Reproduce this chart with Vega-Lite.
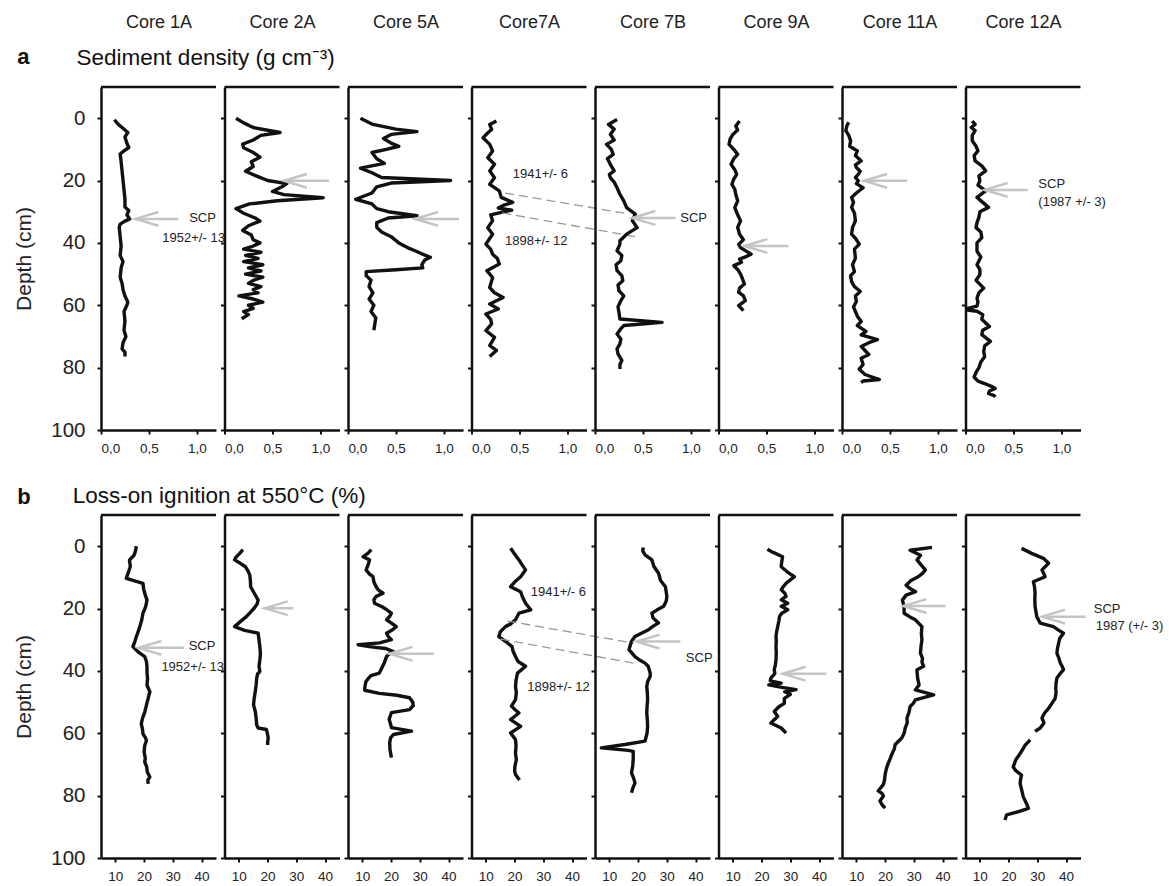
{
"$schema":"https://vega.github.io/schema/vega-lite/v6.json",
"background":"white",
"padding":{"left":13,"top":13,"right":5,"bottom":5},
"autosize":{"type":"pad"},
"config":{"font":"Liberation Sans","view":{"stroke":null},
"axis":{"grid":false,"domainColor":"#111","domainWidth":2.5,"tickColor":"#111","tickWidth":2,"tickSize":4,"labelColor":"#222","titleColor":"#222","labelFont":"Liberation Sans","titleFont":"Liberation Sans"},
"axisX":{"labelFontSize":13.5,"labelPadding":7},
"axisY":{"labelFontSize":20.5,"labelPadding":12,"titleFontSize":21,"titleFontWeight":"normal","titlePadding":16},
"text":{"font":"Liberation Sans"}},
"datasets":{
"P":[
{"r":"a","c":"1A","d":0.5,"v":0.14},{"r":"a","c":"1A","d":2,"v":0.18},{"r":"a","c":"1A","d":3,"v":0.22},{"r":"a","c":"1A","d":4.6,"v":0.28},{"r":"a","c":"1A","d":6,"v":0.25},{"r":"a","c":"1A","d":8,"v":0.27},{"r":"a","c":"1A","d":9.4,"v":0.29},{"r":"a","c":"1A","d":10.5,"v":0.24},{"r":"a","c":"1A","d":11.5,"v":0.2},{"r":"a","c":"1A","d":14,"v":0.21},{"r":"a","c":"1A","d":17,"v":0.22},{"r":"a","c":"1A","d":20,"v":0.23},{"r":"a","c":"1A","d":23,"v":0.24},{"r":"a","c":"1A","d":26,"v":0.25},{"r":"a","c":"1A","d":28.5,"v":0.25},{"r":"a","c":"1A","d":29.6,"v":0.29},{"r":"a","c":"1A","d":31,"v":0.27},{"r":"a","c":"1A","d":32.3,"v":0.3},{"r":"a","c":"1A","d":33,"v":0.25},{"r":"a","c":"1A","d":34,"v":0.2},{"r":"a","c":"1A","d":35,"v":0.19},{"r":"a","c":"1A","d":38,"v":0.2},{"r":"a","c":"1A","d":41,"v":0.21},{"r":"a","c":"1A","d":44,"v":0.2},{"r":"a","c":"1A","d":46,"v":0.23},{"r":"a","c":"1A","d":48,"v":0.21},{"r":"a","c":"1A","d":51,"v":0.2},{"r":"a","c":"1A","d":53,"v":0.22},{"r":"a","c":"1A","d":55,"v":0.23},{"r":"a","c":"1A","d":57,"v":0.25},{"r":"a","c":"1A","d":59,"v":0.28},{"r":"a","c":"1A","d":60,"v":0.27},{"r":"a","c":"1A","d":62,"v":0.24},{"r":"a","c":"1A","d":65,"v":0.25},{"r":"a","c":"1A","d":68,"v":0.24},{"r":"a","c":"1A","d":70,"v":0.26},{"r":"a","c":"1A","d":72,"v":0.23},{"r":"a","c":"1A","d":74,"v":0.22},{"r":"a","c":"1A","d":75,"v":0.25},{"r":"a","c":"1A","d":76.4,"v":0.25},
{"r":"a","c":"2A","d":0,"v":0.12},{"r":"a","c":"2A","d":1.5,"v":0.2},{"r":"a","c":"2A","d":3,"v":0.3},{"r":"a","c":"2A","d":4.6,"v":0.58},{"r":"a","c":"2A","d":5.5,"v":0.38},{"r":"a","c":"2A","d":7,"v":0.3},{"r":"a","c":"2A","d":8.3,"v":0.19},{"r":"a","c":"2A","d":9.5,"v":0.2},{"r":"a","c":"2A","d":11,"v":0.3},{"r":"a","c":"2A","d":12.5,"v":0.37},{"r":"a","c":"2A","d":14,"v":0.28},{"r":"a","c":"2A","d":15.5,"v":0.3},{"r":"a","c":"2A","d":17,"v":0.22},{"r":"a","c":"2A","d":18.5,"v":0.33},{"r":"a","c":"2A","d":20,"v":0.45},{"r":"a","c":"2A","d":21,"v":0.65},{"r":"a","c":"2A","d":22,"v":0.6},{"r":"a","c":"2A","d":23.5,"v":0.5},{"r":"a","c":"2A","d":24.5,"v":0.62},{"r":"a","c":"2A","d":25.5,"v":1.03},{"r":"a","c":"2A","d":26.5,"v":0.55},{"r":"a","c":"2A","d":27.5,"v":0.26},{"r":"a","c":"2A","d":29,"v":0.12},{"r":"a","c":"2A","d":30.5,"v":0.2},{"r":"a","c":"2A","d":32,"v":0.32},{"r":"a","c":"2A","d":33,"v":0.37},{"r":"a","c":"2A","d":34.5,"v":0.25},{"r":"a","c":"2A","d":36,"v":0.19},{"r":"a","c":"2A","d":37.5,"v":0.28},{"r":"a","c":"2A","d":39,"v":0.3},{"r":"a","c":"2A","d":40,"v":0.37},{"r":"a","c":"2A","d":41,"v":0.3},{"r":"a","c":"2A","d":42,"v":0.2},{"r":"a","c":"2A","d":43,"v":0.38},{"r":"a","c":"2A","d":44,"v":0.22},{"r":"a","c":"2A","d":45,"v":0.35},{"r":"a","c":"2A","d":46,"v":0.2},{"r":"a","c":"2A","d":47,"v":0.4},{"r":"a","c":"2A","d":48,"v":0.25},{"r":"a","c":"2A","d":49,"v":0.38},{"r":"a","c":"2A","d":50,"v":0.22},{"r":"a","c":"2A","d":51,"v":0.4},{"r":"a","c":"2A","d":52,"v":0.3},{"r":"a","c":"2A","d":53,"v":0.25},{"r":"a","c":"2A","d":54,"v":0.38},{"r":"a","c":"2A","d":55,"v":0.3},{"r":"a","c":"2A","d":56,"v":0.35},{"r":"a","c":"2A","d":57,"v":0.15},{"r":"a","c":"2A","d":58,"v":0.3},{"r":"a","c":"2A","d":59,"v":0.4},{"r":"a","c":"2A","d":60,"v":0.25},{"r":"a","c":"2A","d":61,"v":0.3},{"r":"a","c":"2A","d":62,"v":0.2},{"r":"a","c":"2A","d":63,"v":0.25},{"r":"a","c":"2A","d":64.3,"v":0.18},
{"r":"a","c":"5A","d":0,"v":0.13},{"r":"a","c":"5A","d":2,"v":0.26},{"r":"a","c":"5A","d":3.5,"v":0.5},{"r":"a","c":"5A","d":4.3,"v":0.72},{"r":"a","c":"5A","d":5.2,"v":0.45},{"r":"a","c":"5A","d":6.5,"v":0.37},{"r":"a","c":"5A","d":8,"v":0.45},{"r":"a","c":"5A","d":9,"v":0.53},{"r":"a","c":"5A","d":10,"v":0.4},{"r":"a","c":"5A","d":11,"v":0.25},{"r":"a","c":"5A","d":13,"v":0.3},{"r":"a","c":"5A","d":14.5,"v":0.38},{"r":"a","c":"5A","d":16,"v":0.13},{"r":"a","c":"5A","d":17.5,"v":0.25},{"r":"a","c":"5A","d":19,"v":0.35},{"r":"a","c":"5A","d":20,"v":1.07},{"r":"a","c":"5A","d":20.8,"v":0.45},{"r":"a","c":"5A","d":22,"v":0.3},{"r":"a","c":"5A","d":24,"v":0.25},{"r":"a","c":"5A","d":26,"v":0.08},{"r":"a","c":"5A","d":27.5,"v":0.25},{"r":"a","c":"5A","d":29,"v":0.3},{"r":"a","c":"5A","d":30,"v":0.42},{"r":"a","c":"5A","d":31.3,"v":0.72},{"r":"a","c":"5A","d":32,"v":0.42},{"r":"a","c":"5A","d":33.5,"v":0.3},{"r":"a","c":"5A","d":35,"v":0.3},{"r":"a","c":"5A","d":36.5,"v":0.35},{"r":"a","c":"5A","d":38,"v":0.45},{"r":"a","c":"5A","d":40,"v":0.53},{"r":"a","c":"5A","d":41.5,"v":0.62},{"r":"a","c":"5A","d":42.5,"v":0.7},{"r":"a","c":"5A","d":43.5,"v":0.77},{"r":"a","c":"5A","d":44.6,"v":0.86},{"r":"a","c":"5A","d":45.5,"v":0.8},{"r":"a","c":"5A","d":47,"v":0.77},{"r":"a","c":"5A","d":48,"v":0.78},{"r":"a","c":"5A","d":48.6,"v":0.5},{"r":"a","c":"5A","d":49.2,"v":0.19},{"r":"a","c":"5A","d":50.5,"v":0.19},{"r":"a","c":"5A","d":52,"v":0.24},{"r":"a","c":"5A","d":54,"v":0.22},{"r":"a","c":"5A","d":56,"v":0.26},{"r":"a","c":"5A","d":58,"v":0.22},{"r":"a","c":"5A","d":60,"v":0.27},{"r":"a","c":"5A","d":62,"v":0.24},{"r":"a","c":"5A","d":64,"v":0.29},{"r":"a","c":"5A","d":66,"v":0.28},{"r":"a","c":"5A","d":68,"v":0.27},
{"r":"a","c":"7A","d":0.9,"v":0.26},{"r":"a","c":"7A","d":2,"v":0.19},{"r":"a","c":"7A","d":3.6,"v":0.21},{"r":"a","c":"7A","d":5,"v":0.16},{"r":"a","c":"7A","d":6.3,"v":0.12},{"r":"a","c":"7A","d":8.4,"v":0.19},{"r":"a","c":"7A","d":10.5,"v":0.22},{"r":"a","c":"7A","d":12.7,"v":0.17},{"r":"a","c":"7A","d":14.8,"v":0.24},{"r":"a","c":"7A","d":16.9,"v":0.19},{"r":"a","c":"7A","d":19.1,"v":0.24},{"r":"a","c":"7A","d":21.2,"v":0.19},{"r":"a","c":"7A","d":23.3,"v":0.29},{"r":"a","c":"7A","d":25.4,"v":0.31},{"r":"a","c":"7A","d":27,"v":0.43},{"r":"a","c":"7A","d":28,"v":0.33},{"r":"a","c":"7A","d":28.8,"v":0.28},{"r":"a","c":"7A","d":29.5,"v":0.42},{"r":"a","c":"7A","d":30.3,"v":0.3},{"r":"a","c":"7A","d":31,"v":0.2},{"r":"a","c":"7A","d":32.9,"v":0.22},{"r":"a","c":"7A","d":35.1,"v":0.17},{"r":"a","c":"7A","d":37.2,"v":0.22},{"r":"a","c":"7A","d":40.4,"v":0.15},{"r":"a","c":"7A","d":42,"v":0.2},{"r":"a","c":"7A","d":43.6,"v":0.22},{"r":"a","c":"7A","d":45,"v":0.27},{"r":"a","c":"7A","d":46.8,"v":0.29},{"r":"a","c":"7A","d":48.9,"v":0.16},{"r":"a","c":"7A","d":51.1,"v":0.22},{"r":"a","c":"7A","d":54.3,"v":0.19},{"r":"a","c":"7A","d":56,"v":0.24},{"r":"a","c":"7A","d":57.5,"v":0.33},{"r":"a","c":"7A","d":59.6,"v":0.19},{"r":"a","c":"7A","d":61.2,"v":0.28},{"r":"a","c":"7A","d":62.8,"v":0.15},{"r":"a","c":"7A","d":64.5,"v":0.2},{"r":"a","c":"7A","d":66,"v":0.21},{"r":"a","c":"7A","d":68.1,"v":0.15},{"r":"a","c":"7A","d":70.3,"v":0.24},{"r":"a","c":"7A","d":72.9,"v":0.19},{"r":"a","c":"7A","d":74.5,"v":0.26},{"r":"a","c":"7A","d":76.4,"v":0.19},
{"r":"a","c":"7B","d":0.4,"v":0.23},{"r":"a","c":"7B","d":2,"v":0.14},{"r":"a","c":"7B","d":3.5,"v":0.2},{"r":"a","c":"7B","d":5.2,"v":0.16},{"r":"a","c":"7B","d":7,"v":0.2},{"r":"a","c":"7B","d":8.4,"v":0.12},{"r":"a","c":"7B","d":10,"v":0.17},{"r":"a","c":"7B","d":11.6,"v":0.19},{"r":"a","c":"7B","d":13,"v":0.13},{"r":"a","c":"7B","d":14.8,"v":0.16},{"r":"a","c":"7B","d":16.9,"v":0.2},{"r":"a","c":"7B","d":18,"v":0.15},{"r":"a","c":"7B","d":19.1,"v":0.16},{"r":"a","c":"7B","d":20.5,"v":0.2},{"r":"a","c":"7B","d":22.3,"v":0.23},{"r":"a","c":"7B","d":24.4,"v":0.26},{"r":"a","c":"7B","d":26.5,"v":0.3},{"r":"a","c":"7B","d":28.7,"v":0.33},{"r":"a","c":"7B","d":30.8,"v":0.42},{"r":"a","c":"7B","d":32.9,"v":0.39},{"r":"a","c":"7B","d":35.1,"v":0.44},{"r":"a","c":"7B","d":37.2,"v":0.33},{"r":"a","c":"7B","d":39.3,"v":0.26},{"r":"a","c":"7B","d":40.4,"v":0.26},{"r":"a","c":"7B","d":42.5,"v":0.23},{"r":"a","c":"7B","d":44,"v":0.28},{"r":"a","c":"7B","d":45.7,"v":0.27},{"r":"a","c":"7B","d":47,"v":0.22},{"r":"a","c":"7B","d":48.9,"v":0.23},{"r":"a","c":"7B","d":50.5,"v":0.28},{"r":"a","c":"7B","d":52.1,"v":0.29},{"r":"a","c":"7B","d":53.5,"v":0.24},{"r":"a","c":"7B","d":55.3,"v":0.25},{"r":"a","c":"7B","d":57,"v":0.3},{"r":"a","c":"7B","d":58.5,"v":0.27},{"r":"a","c":"7B","d":60.5,"v":0.24},{"r":"a","c":"7B","d":62.3,"v":0.25},{"r":"a","c":"7B","d":64.4,"v":0.26},{"r":"a","c":"7B","d":65.5,"v":0.7},{"r":"a","c":"7B","d":66.5,"v":0.3},{"r":"a","c":"7B","d":67.5,"v":0.27},{"r":"a","c":"7B","d":69.2,"v":0.23},{"r":"a","c":"7B","d":70.8,"v":0.27},{"r":"a","c":"7B","d":72.4,"v":0.26},{"r":"a","c":"7B","d":74,"v":0.23},{"r":"a","c":"7B","d":75.6,"v":0.24},{"r":"a","c":"7B","d":77.7,"v":0.28},{"r":"a","c":"7B","d":79,"v":0.26},{"r":"a","c":"7B","d":80.4,"v":0.26},
{"r":"a","c":"9A","d":0.9,"v":0.22},{"r":"a","c":"9A","d":2.5,"v":0.18},{"r":"a","c":"9A","d":3.8,"v":0.2},{"r":"a","c":"9A","d":5.2,"v":0.15},{"r":"a","c":"9A","d":6.8,"v":0.12},{"r":"a","c":"9A","d":8.4,"v":0.11},{"r":"a","c":"9A","d":10,"v":0.16},{"r":"a","c":"9A","d":11.6,"v":0.2},{"r":"a","c":"9A","d":13,"v":0.16},{"r":"a","c":"9A","d":14.8,"v":0.13},{"r":"a","c":"9A","d":16.5,"v":0.17},{"r":"a","c":"9A","d":18,"v":0.19},{"r":"a","c":"9A","d":19.5,"v":0.16},{"r":"a","c":"9A","d":21.2,"v":0.14},{"r":"a","c":"9A","d":22.8,"v":0.17},{"r":"a","c":"9A","d":24.4,"v":0.18},{"r":"a","c":"9A","d":26.5,"v":0.2},{"r":"a","c":"9A","d":28.7,"v":0.17},{"r":"a","c":"9A","d":31,"v":0.2},{"r":"a","c":"9A","d":32.9,"v":0.23},{"r":"a","c":"9A","d":35,"v":0.2},{"r":"a","c":"9A","d":37.2,"v":0.22},{"r":"a","c":"9A","d":39,"v":0.26},{"r":"a","c":"9A","d":40.4,"v":0.21},{"r":"a","c":"9A","d":41.5,"v":0.23},{"r":"a","c":"9A","d":43.6,"v":0.34},{"r":"a","c":"9A","d":44.5,"v":0.28},{"r":"a","c":"9A","d":45.2,"v":0.22},{"r":"a","c":"9A","d":46.2,"v":0.24},{"r":"a","c":"9A","d":47.3,"v":0.16},{"r":"a","c":"9A","d":48.5,"v":0.2},{"r":"a","c":"9A","d":50,"v":0.23},{"r":"a","c":"9A","d":51.5,"v":0.25},{"r":"a","c":"9A","d":53.2,"v":0.27},{"r":"a","c":"9A","d":54.5,"v":0.22},{"r":"a","c":"9A","d":55.8,"v":0.21},{"r":"a","c":"9A","d":57,"v":0.26},{"r":"a","c":"9A","d":58.5,"v":0.28},{"r":"a","c":"9A","d":60.1,"v":0.21},{"r":"a","c":"9A","d":61.7,"v":0.26},
{"r":"a","c":"11A","d":1.3,"v":0.07},{"r":"a","c":"11A","d":2.5,"v":0.05},{"r":"a","c":"11A","d":4,"v":0.04},{"r":"a","c":"11A","d":5.5,"v":0.07},{"r":"a","c":"11A","d":7.2,"v":0.09},{"r":"a","c":"11A","d":9,"v":0.08},{"r":"a","c":"11A","d":10.5,"v":0.16},{"r":"a","c":"11A","d":12,"v":0.14},{"r":"a","c":"11A","d":13.7,"v":0.2},{"r":"a","c":"11A","d":15,"v":0.14},{"r":"a","c":"11A","d":15.8,"v":0.15},{"r":"a","c":"11A","d":17,"v":0.19},{"r":"a","c":"11A","d":18,"v":0.17},{"r":"a","c":"11A","d":19,"v":0.14},{"r":"a","c":"11A","d":20.1,"v":0.17},{"r":"a","c":"11A","d":21,"v":0.15},{"r":"a","c":"11A","d":22.3,"v":0.22},{"r":"a","c":"11A","d":24,"v":0.15},{"r":"a","c":"11A","d":25.4,"v":0.1},{"r":"a","c":"11A","d":27,"v":0.12},{"r":"a","c":"11A","d":28.6,"v":0.1},{"r":"a","c":"11A","d":30.5,"v":0.13},{"r":"a","c":"11A","d":32.9,"v":0.14},{"r":"a","c":"11A","d":35,"v":0.11},{"r":"a","c":"11A","d":37.2,"v":0.1},{"r":"a","c":"11A","d":38.5,"v":0.14},{"r":"a","c":"11A","d":40.4,"v":0.18},{"r":"a","c":"11A","d":42,"v":0.13},{"r":"a","c":"11A","d":44.9,"v":0.14},{"r":"a","c":"11A","d":47,"v":0.11},{"r":"a","c":"11A","d":49.2,"v":0.13},{"r":"a","c":"11A","d":50.5,"v":0.09},{"r":"a","c":"11A","d":52.4,"v":0.1},{"r":"a","c":"11A","d":54,"v":0.13},{"r":"a","c":"11A","d":55.6,"v":0.19},{"r":"a","c":"11A","d":57,"v":0.14},{"r":"a","c":"11A","d":58.8,"v":0.15},{"r":"a","c":"11A","d":60.5,"v":0.12},{"r":"a","c":"11A","d":62,"v":0.14},{"r":"a","c":"11A","d":63.5,"v":0.16},{"r":"a","c":"11A","d":65.2,"v":0.2},{"r":"a","c":"11A","d":66.5,"v":0.16},{"r":"a","c":"11A","d":68.4,"v":0.25},{"r":"a","c":"11A","d":69.5,"v":0.2},{"r":"a","c":"11A","d":71,"v":0.37},{"r":"a","c":"11A","d":72,"v":0.28},{"r":"a","c":"11A","d":73.2,"v":0.2},{"r":"a","c":"11A","d":74.5,"v":0.24},{"r":"a","c":"11A","d":75.8,"v":0.28},{"r":"a","c":"11A","d":77,"v":0.2},{"r":"a","c":"11A","d":79,"v":0.22},{"r":"a","c":"11A","d":80.5,"v":0.18},{"r":"a","c":"11A","d":82.2,"v":0.24},{"r":"a","c":"11A","d":83.8,"v":0.39},{"r":"a","c":"11A","d":84.3,"v":0.22},{"r":"a","c":"11A","d":84.8,"v":0.2},
{"r":"a","c":"12A","d":0.9,"v":0.07},{"r":"a","c":"12A","d":2,"v":0.1},{"r":"a","c":"12A","d":3,"v":0.06},{"r":"a","c":"12A","d":4,"v":0.1},{"r":"a","c":"12A","d":5.5,"v":0.07},{"r":"a","c":"12A","d":7.2,"v":0.07},{"r":"a","c":"12A","d":9,"v":0.11},{"r":"a","c":"12A","d":10.5,"v":0.13},{"r":"a","c":"12A","d":12,"v":0.09},{"r":"a","c":"12A","d":13.7,"v":0.1},{"r":"a","c":"12A","d":15.3,"v":0.17},{"r":"a","c":"12A","d":16.9,"v":0.21},{"r":"a","c":"12A","d":18.5,"v":0.14},{"r":"a","c":"12A","d":20.1,"v":0.15},{"r":"a","c":"12A","d":21.5,"v":0.13},{"r":"a","c":"12A","d":23.3,"v":0.21},{"r":"a","c":"12A","d":25.4,"v":0.12},{"r":"a","c":"12A","d":27,"v":0.18},{"r":"a","c":"12A","d":28.6,"v":0.24},{"r":"a","c":"12A","d":30,"v":0.15},{"r":"a","c":"12A","d":31.8,"v":0.14},{"r":"a","c":"12A","d":33.5,"v":0.12},{"r":"a","c":"12A","d":35.1,"v":0.11},{"r":"a","c":"12A","d":36.5,"v":0.16},{"r":"a","c":"12A","d":38.3,"v":0.17},{"r":"a","c":"12A","d":40,"v":0.12},{"r":"a","c":"12A","d":41.5,"v":0.12},{"r":"a","c":"12A","d":42.7,"v":0.12},{"r":"a","c":"12A","d":44.5,"v":0.16},{"r":"a","c":"12A","d":47,"v":0.12},{"r":"a","c":"12A","d":48.5,"v":0.15},{"r":"a","c":"12A","d":50.2,"v":0.15},{"r":"a","c":"12A","d":52,"v":0.11},{"r":"a","c":"12A","d":54.5,"v":0.19},{"r":"a","c":"12A","d":56,"v":0.14},{"r":"a","c":"12A","d":57.7,"v":0.12},{"r":"a","c":"12A","d":59,"v":0.13},{"r":"a","c":"12A","d":60.3,"v":0.12},{"r":"a","c":"12A","d":61,"v":0.02},{"r":"a","c":"12A","d":61.5,"v":0.02},{"r":"a","c":"12A","d":61.9,"v":0.12},{"r":"a","c":"12A","d":63,"v":0.18},{"r":"a","c":"12A","d":64.5,"v":0.17},{"r":"a","c":"12A","d":66.8,"v":0.25},{"r":"a","c":"12A","d":68,"v":0.18},{"r":"a","c":"12A","d":69.4,"v":0.17},{"r":"a","c":"12A","d":71.6,"v":0.26},{"r":"a","c":"12A","d":73,"v":0.2},{"r":"a","c":"12A","d":74.8,"v":0.19},{"r":"a","c":"12A","d":76.5,"v":0.2},{"r":"a","c":"12A","d":78.2,"v":0.16},{"r":"a","c":"12A","d":80,"v":0.14},{"r":"a","c":"12A","d":81.5,"v":0.11},{"r":"a","c":"12A","d":83,"v":0.09},{"r":"a","c":"12A","d":84.3,"v":0.13},{"r":"a","c":"12A","d":85.1,"v":0.2},{"r":"a","c":"12A","d":86,"v":0.27},{"r":"a","c":"12A","d":86.7,"v":0.31},{"r":"a","c":"12A","d":87.5,"v":0.25},{"r":"a","c":"12A","d":88.3,"v":0.24},{"r":"a","c":"12A","d":89,"v":0.3},{"r":"a","c":"12A","d":89.4,"v":0.31},
{"r":"b","c":"1A","d":0,"v":17.3},{"r":"b","c":"1A","d":1.5,"v":17},{"r":"b","c":"1A","d":2.9,"v":16.5},{"r":"b","c":"1A","d":4.5,"v":14.9},{"r":"b","c":"1A","d":6.5,"v":15.2},{"r":"b","c":"1A","d":8.7,"v":14.4},{"r":"b","c":"1A","d":10.3,"v":13.8},{"r":"b","c":"1A","d":11.9,"v":19.6},{"r":"b","c":"1A","d":13.5,"v":19.8},{"r":"b","c":"1A","d":15.1,"v":20.2},{"r":"b","c":"1A","d":17.3,"v":21},{"r":"b","c":"1A","d":19.5,"v":20.5},{"r":"b","c":"1A","d":21.5,"v":19.6},{"r":"b","c":"1A","d":23.5,"v":19.2},{"r":"b","c":"1A","d":25.8,"v":18.5},{"r":"b","c":"1A","d":27.5,"v":17.9},{"r":"b","c":"1A","d":29,"v":17.3},{"r":"b","c":"1A","d":30.5,"v":16.8},{"r":"b","c":"1A","d":32.2,"v":16.1},{"r":"b","c":"1A","d":33.8,"v":17.8},{"r":"b","c":"1A","d":35.4,"v":20.2},{"r":"b","c":"1A","d":37,"v":20.8},{"r":"b","c":"1A","d":38.6,"v":21},{"r":"b","c":"1A","d":40.5,"v":21},{"r":"b","c":"1A","d":42.5,"v":21.2},{"r":"b","c":"1A","d":44.6,"v":21},{"r":"b","c":"1A","d":46.7,"v":22},{"r":"b","c":"1A","d":48.8,"v":21.4},{"r":"b","c":"1A","d":51,"v":20.8},{"r":"b","c":"1A","d":53.3,"v":20.2},{"r":"b","c":"1A","d":55,"v":19.5},{"r":"b","c":"1A","d":57,"v":19},{"r":"b","c":"1A","d":58.5,"v":19.4},{"r":"b","c":"1A","d":60.2,"v":19.6},{"r":"b","c":"1A","d":61.5,"v":20.5},{"r":"b","c":"1A","d":62.3,"v":20.8},{"r":"b","c":"1A","d":64,"v":20.2},{"r":"b","c":"1A","d":66,"v":20},{"r":"b","c":"1A","d":68,"v":20.4},{"r":"b","c":"1A","d":69.2,"v":20.2},{"r":"b","c":"1A","d":70.8,"v":20.9},{"r":"b","c":"1A","d":72.4,"v":21.1},{"r":"b","c":"1A","d":74,"v":22},{"r":"b","c":"1A","d":75,"v":21.3},{"r":"b","c":"1A","d":76.2,"v":21.4},
{"r":"b","c":"2A","d":1.1,"v":11.4},{"r":"b","c":"2A","d":2.3,"v":10.3},{"r":"b","c":"2A","d":3.5,"v":9},{"r":"b","c":"2A","d":4.4,"v":8.5},{"r":"b","c":"2A","d":5.5,"v":10.5},{"r":"b","c":"2A","d":6.6,"v":12.3},{"r":"b","c":"2A","d":8,"v":13.2},{"r":"b","c":"2A","d":9.3,"v":13.8},{"r":"b","c":"2A","d":11,"v":14},{"r":"b","c":"2A","d":13,"v":14.1},{"r":"b","c":"2A","d":15,"v":15.3},{"r":"b","c":"2A","d":17.3,"v":16.7},{"r":"b","c":"2A","d":18.6,"v":16.3},{"r":"b","c":"2A","d":19.9,"v":15.3},{"r":"b","c":"2A","d":21.2,"v":14},{"r":"b","c":"2A","d":22.6,"v":12.6},{"r":"b","c":"2A","d":24.2,"v":10.5},{"r":"b","c":"2A","d":25.8,"v":8.5},{"r":"b","c":"2A","d":27,"v":12},{"r":"b","c":"2A","d":27.9,"v":16.7},{"r":"b","c":"2A","d":30,"v":17},{"r":"b","c":"2A","d":32.2,"v":17.3},{"r":"b","c":"2A","d":34.5,"v":17.5},{"r":"b","c":"2A","d":36.4,"v":17.3},{"r":"b","c":"2A","d":38.5,"v":17},{"r":"b","c":"2A","d":40.2,"v":17.3},{"r":"b","c":"2A","d":41,"v":16.5},{"r":"b","c":"2A","d":42.3,"v":16.2},{"r":"b","c":"2A","d":44.5,"v":16},{"r":"b","c":"2A","d":46.6,"v":15.7},{"r":"b","c":"2A","d":49,"v":15.3},{"r":"b","c":"2A","d":50.9,"v":15.1},{"r":"b","c":"2A","d":53,"v":15.7},{"r":"b","c":"2A","d":55,"v":16},{"r":"b","c":"2A","d":57.3,"v":16.2},{"r":"b","c":"2A","d":58.3,"v":16.7},{"r":"b","c":"2A","d":58.8,"v":19.6},{"r":"b","c":"2A","d":60,"v":19.9},{"r":"b","c":"2A","d":61.5,"v":20.2},{"r":"b","c":"2A","d":63,"v":20},{"r":"b","c":"2A","d":63.8,"v":20},
{"r":"b","c":"5A","d":1.1,"v":13.1},{"r":"b","c":"5A","d":2.2,"v":12},{"r":"b","c":"5A","d":3.4,"v":10.2},{"r":"b","c":"5A","d":4.4,"v":12.5},{"r":"b","c":"5A","d":6,"v":12},{"r":"b","c":"5A","d":7.6,"v":11.3},{"r":"b","c":"5A","d":9,"v":12.5},{"r":"b","c":"5A","d":9.8,"v":13.7},{"r":"b","c":"5A","d":11.5,"v":14},{"r":"b","c":"5A","d":13,"v":14.8},{"r":"b","c":"5A","d":14,"v":15.5},{"r":"b","c":"5A","d":15.1,"v":17.2},{"r":"b","c":"5A","d":16.1,"v":14.8},{"r":"b","c":"5A","d":17.2,"v":14},{"r":"b","c":"5A","d":18.3,"v":14.2},{"r":"b","c":"5A","d":19.5,"v":17},{"r":"b","c":"5A","d":20.4,"v":18.5},{"r":"b","c":"5A","d":21.5,"v":20.1},{"r":"b","c":"5A","d":22.5,"v":19.5},{"r":"b","c":"5A","d":23.6,"v":18.4},{"r":"b","c":"5A","d":24.6,"v":20},{"r":"b","c":"5A","d":25.8,"v":21.8},{"r":"b","c":"5A","d":26.8,"v":20.5},{"r":"b","c":"5A","d":27.9,"v":18.4},{"r":"b","c":"5A","d":29,"v":19},{"r":"b","c":"5A","d":30,"v":20.1},{"r":"b","c":"5A","d":31,"v":16},{"r":"b","c":"5A","d":31.6,"v":8.5},{"r":"b","c":"5A","d":32.3,"v":13},{"r":"b","c":"5A","d":32.8,"v":18},{"r":"b","c":"5A","d":33.8,"v":20.8},{"r":"b","c":"5A","d":34.5,"v":19.4},{"r":"b","c":"5A","d":35.4,"v":18.4},{"r":"b","c":"5A","d":37.5,"v":17.6},{"r":"b","c":"5A","d":39,"v":16.8},{"r":"b","c":"5A","d":40.7,"v":15.9},{"r":"b","c":"5A","d":41.5,"v":13},{"r":"b","c":"5A","d":42.5,"v":12},{"r":"b","c":"5A","d":43.5,"v":11.2},{"r":"b","c":"5A","d":45,"v":10.9},{"r":"b","c":"5A","d":46.2,"v":10.8},{"r":"b","c":"5A","d":47.2,"v":15.9},{"r":"b","c":"5A","d":47.8,"v":22},{"r":"b","c":"5A","d":48.6,"v":26.4},{"r":"b","c":"5A","d":50,"v":27.5},{"r":"b","c":"5A","d":51.1,"v":27.7},{"r":"b","c":"5A","d":52.4,"v":26.4},{"r":"b","c":"5A","d":53.4,"v":20.1},{"r":"b","c":"5A","d":55.5,"v":19.3},{"r":"b","c":"5A","d":57,"v":19.8},{"r":"b","c":"5A","d":58.2,"v":20.1},{"r":"b","c":"5A","d":59.3,"v":27.1},{"r":"b","c":"5A","d":60.4,"v":20.8},{"r":"b","c":"5A","d":61.5,"v":19.8},{"r":"b","c":"5A","d":63,"v":19.5},{"r":"b","c":"5A","d":65.2,"v":19.6},{"r":"b","c":"5A","d":67.8,"v":20.1},
{"r":"b","c":"7A","d":0.7,"v":18.6},{"r":"b","c":"7A","d":2.5,"v":20},{"r":"b","c":"7A","d":4.4,"v":21.5},{"r":"b","c":"7A","d":6,"v":22.6},{"r":"b","c":"7A","d":7.6,"v":23.8},{"r":"b","c":"7A","d":9.8,"v":22.1},{"r":"b","c":"7A","d":11.5,"v":20},{"r":"b","c":"7A","d":13,"v":18.6},{"r":"b","c":"7A","d":14.6,"v":22.1},{"r":"b","c":"7A","d":16.2,"v":22.7},{"r":"b","c":"7A","d":18.3,"v":23.8},{"r":"b","c":"7A","d":20.4,"v":25.6},{"r":"b","c":"7A","d":21.5,"v":21.5},{"r":"b","c":"7A","d":23.6,"v":20.3},{"r":"b","c":"7A","d":25,"v":18.5},{"r":"b","c":"7A","d":25.8,"v":16.8},{"r":"b","c":"7A","d":27.5,"v":15},{"r":"b","c":"7A","d":29,"v":14.5},{"r":"b","c":"7A","d":30.5,"v":16.8},{"r":"b","c":"7A","d":32.2,"v":19.1},{"r":"b","c":"7A","d":33.8,"v":19.5},{"r":"b","c":"7A","d":35.4,"v":20.3},{"r":"b","c":"7A","d":37,"v":21.2},{"r":"b","c":"7A","d":38.5,"v":23.8},{"r":"b","c":"7A","d":40.7,"v":21},{"r":"b","c":"7A","d":43,"v":20.5},{"r":"b","c":"7A","d":45,"v":20.3},{"r":"b","c":"7A","d":47,"v":20.6},{"r":"b","c":"7A","d":49.2,"v":20.3},{"r":"b","c":"7A","d":51.3,"v":18.9},{"r":"b","c":"7A","d":52.3,"v":20},{"r":"b","c":"7A","d":53.5,"v":21.5},{"r":"b","c":"7A","d":55.6,"v":18.6},{"r":"b","c":"7A","d":57.8,"v":22.1},{"r":"b","c":"7A","d":59.9,"v":18.6},{"r":"b","c":"7A","d":62,"v":20.3},{"r":"b","c":"7A","d":64,"v":20.5},{"r":"b","c":"7A","d":66.3,"v":20.3},{"r":"b","c":"7A","d":68.5,"v":20.6},{"r":"b","c":"7A","d":70.6,"v":20.1},{"r":"b","c":"7A","d":72,"v":20},{"r":"b","c":"7A","d":73.2,"v":20.3},{"r":"b","c":"7A","d":75,"v":21.7},
{"r":"b","c":"7B","d":0.4,"v":21.8},{"r":"b","c":"7B","d":1.5,"v":21.6},{"r":"b","c":"7B","d":2.8,"v":22.4},{"r":"b","c":"7B","d":4.4,"v":24.8},{"r":"b","c":"7B","d":6.5,"v":25.5},{"r":"b","c":"7B","d":8.7,"v":27.1},{"r":"b","c":"7B","d":11,"v":27.8},{"r":"b","c":"7B","d":13,"v":29.5},{"r":"b","c":"7B","d":16.1,"v":30},{"r":"b","c":"7B","d":17.5,"v":29.8},{"r":"b","c":"7B","d":19.3,"v":28.9},{"r":"b","c":"7B","d":20.5,"v":26.5},{"r":"b","c":"7B","d":21.5,"v":24.8},{"r":"b","c":"7B","d":23,"v":25.2},{"r":"b","c":"7B","d":24.6,"v":27.1},{"r":"b","c":"7B","d":25.8,"v":25},{"r":"b","c":"7B","d":26.8,"v":23.6},{"r":"b","c":"7B","d":28,"v":21},{"r":"b","c":"7B","d":29,"v":18.9},{"r":"b","c":"7B","d":30.5,"v":17.7},{"r":"b","c":"7B","d":32,"v":17.2},{"r":"b","c":"7B","d":33.2,"v":16.8},{"r":"b","c":"7B","d":35.4,"v":18.9},{"r":"b","c":"7B","d":36.5,"v":20.5},{"r":"b","c":"7B","d":37.5,"v":22.4},{"r":"b","c":"7B","d":38.5,"v":23.5},{"r":"b","c":"7B","d":40.7,"v":24.2},{"r":"b","c":"7B","d":41.7,"v":24.2},{"r":"b","c":"7B","d":43.5,"v":23.3},{"r":"b","c":"7B","d":45,"v":23},{"r":"b","c":"7B","d":47,"v":23.2},{"r":"b","c":"7B","d":49.2,"v":23.3},{"r":"b","c":"7B","d":51.5,"v":23.1},{"r":"b","c":"7B","d":53.5,"v":23},{"r":"b","c":"7B","d":55.7,"v":23.2},{"r":"b","c":"7B","d":57.8,"v":23.3},{"r":"b","c":"7B","d":60,"v":23.1},{"r":"b","c":"7B","d":62.5,"v":22.4},{"r":"b","c":"7B","d":63.6,"v":15.4},{"r":"b","c":"7B","d":64.7,"v":7.2},{"r":"b","c":"7B","d":65.5,"v":16.6},{"r":"b","c":"7B","d":65.8,"v":18.3},{"r":"b","c":"7B","d":68.4,"v":18.3},{"r":"b","c":"7B","d":70.5,"v":18.1},{"r":"b","c":"7B","d":72.7,"v":17.7},{"r":"b","c":"7B","d":74.3,"v":18.4},{"r":"b","c":"7B","d":75.9,"v":18.9},{"r":"b","c":"7B","d":77.5,"v":18.2},{"r":"b","c":"7B","d":79.1,"v":17.7},
{"r":"b","c":"9A","d":1,"v":22},{"r":"b","c":"9A","d":2,"v":24},{"r":"b","c":"9A","d":3.4,"v":27.3},{"r":"b","c":"9A","d":5,"v":27},{"r":"b","c":"9A","d":6.6,"v":26.8},{"r":"b","c":"9A","d":8.3,"v":29},{"r":"b","c":"9A","d":9.8,"v":31.4},{"r":"b","c":"9A","d":10.8,"v":30},{"r":"b","c":"9A","d":11.9,"v":28.5},{"r":"b","c":"9A","d":13,"v":27.5},{"r":"b","c":"9A","d":14,"v":26.8},{"r":"b","c":"9A","d":15,"v":28},{"r":"b","c":"9A","d":16.1,"v":28.5},{"r":"b","c":"9A","d":17.2,"v":26.8},{"r":"b","c":"9A","d":18.3,"v":29.1},{"r":"b","c":"9A","d":19.3,"v":26.8},{"r":"b","c":"9A","d":20.4,"v":29.1},{"r":"b","c":"9A","d":21.5,"v":27},{"r":"b","c":"9A","d":22.6,"v":26.2},{"r":"b","c":"9A","d":24,"v":26},{"r":"b","c":"9A","d":25.8,"v":25.6},{"r":"b","c":"9A","d":27.5,"v":25.2},{"r":"b","c":"9A","d":29,"v":25},{"r":"b","c":"9A","d":30.5,"v":25.1},{"r":"b","c":"9A","d":32.2,"v":25},{"r":"b","c":"9A","d":34.3,"v":25.1},{"r":"b","c":"9A","d":36.4,"v":25},{"r":"b","c":"9A","d":38,"v":24.8},{"r":"b","c":"9A","d":39.6,"v":24.4},{"r":"b","c":"9A","d":40.9,"v":24.6},{"r":"b","c":"9A","d":42.3,"v":23.2},{"r":"b","c":"9A","d":43.2,"v":23},{"r":"b","c":"9A","d":43.9,"v":26.8},{"r":"b","c":"9A","d":44.5,"v":22.5},{"r":"b","c":"9A","d":45.3,"v":27},{"r":"b","c":"9A","d":46,"v":32},{"r":"b","c":"9A","d":46.7,"v":28},{"r":"b","c":"9A","d":47.5,"v":30},{"r":"b","c":"9A","d":48.8,"v":27.9},{"r":"b","c":"9A","d":50.4,"v":27.9},{"r":"b","c":"9A","d":51.5,"v":26},{"r":"b","c":"9A","d":53,"v":24.4},{"r":"b","c":"9A","d":54.6,"v":25.6},{"r":"b","c":"9A","d":56,"v":24},{"r":"b","c":"9A","d":56.7,"v":23.2},{"r":"b","c":"9A","d":57.5,"v":25},{"r":"b","c":"9A","d":58.3,"v":26.8},{"r":"b","c":"9A","d":59.9,"v":28.5},
{"r":"b","c":"11A","d":0.4,"v":36.3},{"r":"b","c":"11A","d":1.3,"v":28.7},{"r":"b","c":"11A","d":2.9,"v":32.3},{"r":"b","c":"11A","d":4.4,"v":31.1},{"r":"b","c":"11A","d":6,"v":32.5},{"r":"b","c":"11A","d":7.6,"v":34},{"r":"b","c":"11A","d":8.7,"v":33},{"r":"b","c":"11A","d":9.8,"v":31.5},{"r":"b","c":"11A","d":11,"v":29},{"r":"b","c":"11A","d":12.5,"v":27.3},{"r":"b","c":"11A","d":13.5,"v":28.5},{"r":"b","c":"11A","d":14.6,"v":30.6},{"r":"b","c":"11A","d":15.7,"v":27.3},{"r":"b","c":"11A","d":17.3,"v":26},{"r":"b","c":"11A","d":19.3,"v":26.6},{"r":"b","c":"11A","d":21.5,"v":26.6},{"r":"b","c":"11A","d":22.6,"v":28.5},{"r":"b","c":"11A","d":23.6,"v":30.5},{"r":"b","c":"11A","d":25.8,"v":32.8},{"r":"b","c":"11A","d":28,"v":32.6},{"r":"b","c":"11A","d":30,"v":32.8},{"r":"b","c":"11A","d":32,"v":32.5},{"r":"b","c":"11A","d":34.3,"v":32.3},{"r":"b","c":"11A","d":36,"v":33},{"r":"b","c":"11A","d":37.2,"v":32.8},{"r":"b","c":"11A","d":38.5,"v":33.4},{"r":"b","c":"11A","d":39.6,"v":31.1},{"r":"b","c":"11A","d":40.2,"v":31.1},{"r":"b","c":"11A","d":42.3,"v":31.3},{"r":"b","c":"11A","d":44.5,"v":31.8},{"r":"b","c":"11A","d":46.1,"v":30.5},{"r":"b","c":"11A","d":47.7,"v":36.9},{"r":"b","c":"11A","d":49.3,"v":30.5},{"r":"b","c":"11A","d":50.4,"v":29.8},{"r":"b","c":"11A","d":51.4,"v":28.7},{"r":"b","c":"11A","d":53.3,"v":28.3},{"r":"b","c":"11A","d":55.1,"v":27.6},{"r":"b","c":"11A","d":56.7,"v":27.7},{"r":"b","c":"11A","d":58.3,"v":27},{"r":"b","c":"11A","d":60,"v":26.6},{"r":"b","c":"11A","d":61.5,"v":25.8},{"r":"b","c":"11A","d":63.6,"v":23.5},{"r":"b","c":"11A","d":65,"v":23.2},{"r":"b","c":"11A","d":66.8,"v":22.3},{"r":"b","c":"11A","d":68.5,"v":21.6},{"r":"b","c":"11A","d":70,"v":20.9},{"r":"b","c":"11A","d":71.5,"v":20.4},{"r":"b","c":"11A","d":73.2,"v":20},{"r":"b","c":"11A","d":75,"v":19.8},{"r":"b","c":"11A","d":76.4,"v":19.4},{"r":"b","c":"11A","d":78.5,"v":17.6},{"r":"b","c":"11A","d":79.3,"v":18.9},{"r":"b","c":"11A","d":80.1,"v":19.4},{"r":"b","c":"11A","d":81.7,"v":18.2},{"r":"b","c":"11A","d":83,"v":19},{"r":"b","c":"11A","d":84,"v":20},
{"r":"b","c":"12A","s":1,"d":0.7,"v":24.5},{"r":"b","c":"12A","s":1,"d":2.3,"v":28},{"r":"b","c":"12A","s":1,"d":3.9,"v":32.1},{"r":"b","c":"12A","s":1,"d":5.5,"v":33.9},{"r":"b","c":"12A","s":1,"d":7.6,"v":31.6},{"r":"b","c":"12A","s":1,"d":9.8,"v":32.7},{"r":"b","c":"12A","s":1,"d":11.4,"v":28.6},{"r":"b","c":"12A","s":1,"d":13,"v":29},{"r":"b","c":"12A","s":1,"d":15.1,"v":29.2},{"r":"b","c":"12A","s":1,"d":17,"v":29.1},{"r":"b","c":"12A","s":1,"d":19.3,"v":29.2},{"r":"b","c":"12A","s":1,"d":21,"v":29.5},{"r":"b","c":"12A","s":1,"d":22.6,"v":29.8},{"r":"b","c":"12A","s":1,"d":24.7,"v":31},{"r":"b","c":"12A","s":1,"d":25.8,"v":35.6},{"r":"b","c":"12A","s":1,"d":27,"v":37.5},{"r":"b","c":"12A","s":1,"d":27.9,"v":39.1},{"r":"b","c":"12A","s":1,"d":29.5,"v":37.8},{"r":"b","c":"12A","s":1,"d":31.1,"v":37.4},{"r":"b","c":"12A","s":1,"d":32.7,"v":37},{"r":"b","c":"12A","s":1,"d":34.3,"v":36.8},{"r":"b","c":"12A","s":1,"d":36,"v":37.5},{"r":"b","c":"12A","s":1,"d":37.5,"v":38},{"r":"b","c":"12A","s":1,"d":38.5,"v":38.6},{"r":"b","c":"12A","s":1,"d":39.6,"v":39.1},{"r":"b","c":"12A","s":1,"d":41,"v":37.8},{"r":"b","c":"12A","s":1,"d":42.3,"v":36.8},{"r":"b","c":"12A","s":1,"d":44,"v":36.5},{"r":"b","c":"12A","s":1,"d":45.6,"v":36.4},{"r":"b","c":"12A","s":1,"d":47,"v":36.5},{"r":"b","c":"12A","s":1,"d":48.8,"v":36.2},{"r":"b","c":"12A","s":1,"d":50.5,"v":35},{"r":"b","c":"12A","s":1,"d":52,"v":33.9},{"r":"b","c":"12A","s":1,"d":53.5,"v":32.5},{"r":"b","c":"12A","s":1,"d":55.1,"v":31.6},{"r":"b","c":"12A","s":1,"d":56.7,"v":32.3},{"r":"b","c":"12A","s":1,"d":58.3,"v":31},{"r":"b","c":"12A","s":1,"d":59.4,"v":29.2},
{"r":"b","c":"12A","s":2,"d":62.1,"v":27.5},{"r":"b","c":"12A","s":2,"d":63.9,"v":25.7},{"r":"b","c":"12A","s":2,"d":65,"v":25},{"r":"b","c":"12A","s":2,"d":66.5,"v":24},{"r":"b","c":"12A","s":2,"d":68.5,"v":22.5},{"r":"b","c":"12A","s":2,"d":70.8,"v":21.6},{"r":"b","c":"12A","s":2,"d":72,"v":22.5},{"r":"b","c":"12A","s":2,"d":73.4,"v":24.5},{"r":"b","c":"12A","s":2,"d":74.5,"v":24.2},{"r":"b","c":"12A","s":2,"d":76.1,"v":24},{"r":"b","c":"12A","s":2,"d":78,"v":24.5},{"r":"b","c":"12A","s":2,"d":80.4,"v":25.1},{"r":"b","c":"12A","s":2,"d":82.5,"v":26.2},{"r":"b","c":"12A","s":2,"d":84.1,"v":26.9},{"r":"b","c":"12A","s":2,"d":85,"v":24},{"r":"b","c":"12A","s":2,"d":86.2,"v":19.3},{"r":"b","c":"12A","s":2,"d":87.8,"v":18.7}
],
"A":[
{"r":"a","c":"1A","x":0.36,"x2":0.81,"d":32.3},{"r":"a","c":"2A","x":0.62,"x2":1.09,"d":20.1},{"r":"a","c":"5A","x":0.7,"x2":1.16,"d":32.3},{"r":"a","c":"7B","x":0.39,"x2":0.84,"d":32},{"r":"a","c":"9A","x":0.27,"x2":0.73,"d":41},{"r":"a","c":"11A","x":0.23,"x2":0.68,"d":20.1},{"r":"a","c":"12A","x":0.2,"x2":0.65,"d":23},
{"r":"b","c":"1A","x":18,"x2":33.8,"d":32.6},{"r":"b","c":"2A","x":19,"x2":28.9,"d":19.9},{"r":"b","c":"5A","x":19.4,"x2":34.8,"d":34.5},{"r":"b","c":"7B","x":19.4,"x2":34.7,"d":30.6},{"r":"b","c":"9A","x":27.3,"x2":42.5,"d":40.9},{"r":"b","c":"11A","x":26.4,"x2":41,"d":19.2},{"r":"b","c":"12A","x":31.6,"x2":46.8,"d":22.6}
],
"N":[
{"r":"a","c":"1A","t":"SCP","x":0.92,"d":32},{"r":"a","c":"1A","t":"1952+/- 13","x":0.64,"d":38.5},{"r":"a","c":"7A","t":"1941+/- 6","x":0.43,"d":17.9},{"r":"a","c":"7A","t":"1898+/- 12","x":0.35,"d":39.3},{"r":"a","c":"7B","t":"SCP","x":0.89,"d":32},{"r":"a","c":"12A","t":"SCP","x":0.76,"d":21},{"r":"a","c":"12A","t":"(1987 +/- 3)","x":0.76,"d":26.8},
{"r":"b","c":"1A","t":"SCP","x":35.5,"d":32},{"r":"b","c":"1A","t":"1952+/- 13","x":26,"d":38.6},{"r":"b","c":"7A","t":"1941+/- 6","x":25.6,"d":14.6},{"r":"b","c":"7A","t":"1898+/- 12","x":24.4,"d":45},{"r":"b","c":"7B","t":"SCP","x":36.6,"d":35.8},{"r":"b","c":"12A","t":"SCP","x":49.6,"d":20},{"r":"b","c":"12A","t":"1987 (+/- 3)","x":50.3,"d":25.6}
],
"L":[
{"r":"a","x":0.35,"x2":1.64,"d":24,"d2":30.7},{"r":"a","x":0.32,"x2":1.71,"d":30.4,"d2":38},
{"r":"b","x":17.5,"x2":61.4,"d":24,"d2":31.1},{"r":"b","x":15.1,"x2":62.6,"d":29.8,"d2":37.7}
],
"H":[
{"r":"a","k":"h","t":"Sediment density (g cm⁻³)","x":-0.255,"d":-16.9},{"r":"a","k":"l","t":"a","x":-0.875,"d":-17.5},
{"r":"b","k":"h","t":"Loss-on ignition at 550°C (%)","x":-4.8,"d":-13.9},{"r":"b","k":"l","t":"b","x":-24.1,"d":-13.6}
]
},
"columns":8,
"spacing":{"row":85,"column":8.5},
"bounds":"flush",
"concat":[
{"width":115,"height":343,"layer":[
{"data":{"name":"P"},"transform":[{"filter":"datum.r=='a'&&datum.c=='1A'"}],"mark":{"type":"line","color":"#111","strokeWidth":3.4,"strokeJoin":"round"},"encoding":{"x":{"field":"v","type":"quantitative","scale":{"domain":[0,1.2],"nice":false,"zero":false},"axis":{"values":[0,0.5,1],"labelExpr":"replace(format(datum.value,'.1f'),'.',',')","title":null}},"y":{"field":"d","type":"quantitative","scale":{"domain":[-10,100],"reverse":true,"nice":false,"zero":false},"axis":{"values":[0,20,40,60,80,100],"title":"Depth (cm)"}},"order":{"field":"d","type":"quantitative"}}},
{"data":{"values":[{}]},"mark":{"type":"rule","color":"#111","strokeWidth":2.5},"encoding":{"x":{"datum":0,"type":"quantitative","axis":{"orient":"top","domain":false,"ticks":false,"labels":false,"title":"Core 1A","titleFontSize":18,"titleFontWeight":"normal","titlePadding":56}},"x2":{"datum":1.2},"y":{"datum":-10,"type":"quantitative","axis":null}}},
{"data":{"name":"A"},"transform":[{"filter":"datum.r=='a'&&datum.c=='1A'"}],"mark":{"type":"rule","color":"#c4c4c4","strokeWidth":2.5},"encoding":{"x":{"field":"x","type":"quantitative","axis":null},"x2":{"field":"x2"},"y":{"field":"d","type":"quantitative","axis":null}}},
{"data":{"name":"A"},"transform":[{"filter":"datum.r=='a'&&datum.c=='1A'"}],"mark":{"type":"point","shape":"M2,-0.6L0,0L2,0.6","size":529,"filled":false,"color":"#c4c4c4","strokeWidth":2.5,"opacity":1},"encoding":{"x":{"field":"x","type":"quantitative","axis":null},"y":{"field":"d","type":"quantitative","axis":null}}},
{"data":{"name":"N"},"transform":[{"filter":"datum.r=='a'&&datum.c=='1A'"}],"mark":{"type":"text","align":"left","baseline":"middle","fontSize":13,"color":"#222"},"encoding":{"x":{"field":"x","type":"quantitative","axis":null},"y":{"field":"d","type":"quantitative","axis":null},"text":{"field":"t"}}},
{"data":{"name":"H"},"transform":[{"filter":"datum.r=='a'&&datum.k=='h'"}],"mark":{"type":"text","align":"left","baseline":"alphabetic","fontSize":22.5,"color":"#111"},"encoding":{"x":{"field":"x","type":"quantitative","axis":null},"y":{"field":"d","type":"quantitative","axis":null},"text":{"field":"t"}}},
{"data":{"name":"H"},"transform":[{"filter":"datum.r=='a'&&datum.k=='l'"}],"mark":{"type":"text","align":"left","baseline":"alphabetic","fontSize":22,"fontWeight":"bold","color":"#111"},"encoding":{"x":{"field":"x","type":"quantitative","axis":null},"y":{"field":"d","type":"quantitative","axis":null},"text":{"field":"t"}}}
],"resolve":{"axis":{"x":"independent","y":"independent"}}},
{"width":115,"height":343,"layer":[
{"data":{"name":"P"},"transform":[{"filter":"datum.r=='a'&&datum.c=='2A'"}],"mark":{"type":"line","color":"#111","strokeWidth":3.4,"strokeJoin":"round"},"encoding":{"x":{"field":"v","type":"quantitative","scale":{"domain":[0,1.2],"nice":false,"zero":false},"axis":{"values":[0,0.5,1],"labelExpr":"replace(format(datum.value,'.1f'),'.',',')","title":null}},"y":{"field":"d","type":"quantitative","scale":{"domain":[-10,100],"reverse":true,"nice":false,"zero":false},"axis":{"values":[0,20,40,60,80,100],"labels":false,"title":null}},"order":{"field":"d","type":"quantitative"}}},
{"data":{"values":[{}]},"mark":{"type":"rule","color":"#111","strokeWidth":2.5},"encoding":{"x":{"datum":0,"type":"quantitative","axis":{"orient":"top","domain":false,"ticks":false,"labels":false,"title":"Core 2A","titleFontSize":18,"titleFontWeight":"normal","titlePadding":56}},"x2":{"datum":1.2},"y":{"datum":-10,"type":"quantitative","axis":null}}},
{"data":{"name":"A"},"transform":[{"filter":"datum.r=='a'&&datum.c=='2A'"}],"mark":{"type":"rule","color":"#c4c4c4","strokeWidth":2.5},"encoding":{"x":{"field":"x","type":"quantitative","axis":null},"x2":{"field":"x2"},"y":{"field":"d","type":"quantitative","axis":null}}},
{"data":{"name":"A"},"transform":[{"filter":"datum.r=='a'&&datum.c=='2A'"}],"mark":{"type":"point","shape":"M2,-0.6L0,0L2,0.6","size":529,"filled":false,"color":"#c4c4c4","strokeWidth":2.5,"opacity":1},"encoding":{"x":{"field":"x","type":"quantitative","axis":null},"y":{"field":"d","type":"quantitative","axis":null}}}
],"resolve":{"axis":{"x":"independent","y":"independent"}}},
{"width":115,"height":343,"layer":[
{"data":{"name":"P"},"transform":[{"filter":"datum.r=='a'&&datum.c=='5A'"}],"mark":{"type":"line","color":"#111","strokeWidth":3.4,"strokeJoin":"round"},"encoding":{"x":{"field":"v","type":"quantitative","scale":{"domain":[0,1.2],"nice":false,"zero":false},"axis":{"values":[0,0.5,1],"labelExpr":"replace(format(datum.value,'.1f'),'.',',')","title":null}},"y":{"field":"d","type":"quantitative","scale":{"domain":[-10,100],"reverse":true,"nice":false,"zero":false},"axis":{"values":[0,20,40,60,80,100],"labels":false,"title":null}},"order":{"field":"d","type":"quantitative"}}},
{"data":{"values":[{}]},"mark":{"type":"rule","color":"#111","strokeWidth":2.5},"encoding":{"x":{"datum":0,"type":"quantitative","axis":{"orient":"top","domain":false,"ticks":false,"labels":false,"title":"Core 5A","titleFontSize":18,"titleFontWeight":"normal","titlePadding":56}},"x2":{"datum":1.2},"y":{"datum":-10,"type":"quantitative","axis":null}}},
{"data":{"name":"A"},"transform":[{"filter":"datum.r=='a'&&datum.c=='5A'"}],"mark":{"type":"rule","color":"#c4c4c4","strokeWidth":2.5},"encoding":{"x":{"field":"x","type":"quantitative","axis":null},"x2":{"field":"x2"},"y":{"field":"d","type":"quantitative","axis":null}}},
{"data":{"name":"A"},"transform":[{"filter":"datum.r=='a'&&datum.c=='5A'"}],"mark":{"type":"point","shape":"M2,-0.6L0,0L2,0.6","size":529,"filled":false,"color":"#c4c4c4","strokeWidth":2.5,"opacity":1},"encoding":{"x":{"field":"x","type":"quantitative","axis":null},"y":{"field":"d","type":"quantitative","axis":null}}}
],"resolve":{"axis":{"x":"independent","y":"independent"}}},
{"width":115,"height":343,"layer":[
{"data":{"name":"P"},"transform":[{"filter":"datum.r=='a'&&datum.c=='7A'"}],"mark":{"type":"line","color":"#111","strokeWidth":3.4,"strokeJoin":"round"},"encoding":{"x":{"field":"v","type":"quantitative","scale":{"domain":[0,1.2],"nice":false,"zero":false},"axis":{"values":[0,0.5,1],"labelExpr":"replace(format(datum.value,'.1f'),'.',',')","title":null}},"y":{"field":"d","type":"quantitative","scale":{"domain":[-10,100],"reverse":true,"nice":false,"zero":false},"axis":{"values":[0,20,40,60,80,100],"labels":false,"title":null}},"order":{"field":"d","type":"quantitative"}}},
{"data":{"values":[{}]},"mark":{"type":"rule","color":"#111","strokeWidth":2.5},"encoding":{"x":{"datum":0,"type":"quantitative","axis":{"orient":"top","domain":false,"ticks":false,"labels":false,"title":"Core7A","titleFontSize":18,"titleFontWeight":"normal","titlePadding":56}},"x2":{"datum":1.2},"y":{"datum":-10,"type":"quantitative","axis":null}}},
{"data":{"name":"N"},"transform":[{"filter":"datum.r=='a'&&datum.c=='7A'"}],"mark":{"type":"text","align":"left","baseline":"middle","fontSize":13,"color":"#222"},"encoding":{"x":{"field":"x","type":"quantitative","axis":null},"y":{"field":"d","type":"quantitative","axis":null},"text":{"field":"t"}}},
{"data":{"name":"L"},"transform":[{"filter":"datum.r=='a'"}],"mark":{"type":"rule","color":"#999","strokeWidth":1.3,"strokeDash":[9,5]},"encoding":{"x":{"field":"x","type":"quantitative","axis":null},"x2":{"field":"x2"},"y":{"field":"d","type":"quantitative","axis":null},"y2":{"field":"d2"}}}
],"resolve":{"axis":{"x":"independent","y":"independent"}}},
{"width":115,"height":343,"layer":[
{"data":{"name":"P"},"transform":[{"filter":"datum.r=='a'&&datum.c=='7B'"}],"mark":{"type":"line","color":"#111","strokeWidth":3.4,"strokeJoin":"round"},"encoding":{"x":{"field":"v","type":"quantitative","scale":{"domain":[0,1.2],"nice":false,"zero":false},"axis":{"values":[0,0.5,1],"labelExpr":"replace(format(datum.value,'.1f'),'.',',')","title":null}},"y":{"field":"d","type":"quantitative","scale":{"domain":[-10,100],"reverse":true,"nice":false,"zero":false},"axis":{"values":[0,20,40,60,80,100],"labels":false,"title":null}},"order":{"field":"d","type":"quantitative"}}},
{"data":{"values":[{}]},"mark":{"type":"rule","color":"#111","strokeWidth":2.5},"encoding":{"x":{"datum":0,"type":"quantitative","axis":{"orient":"top","domain":false,"ticks":false,"labels":false,"title":"Core 7B","titleFontSize":18,"titleFontWeight":"normal","titlePadding":56}},"x2":{"datum":1.2},"y":{"datum":-10,"type":"quantitative","axis":null}}},
{"data":{"name":"A"},"transform":[{"filter":"datum.r=='a'&&datum.c=='7B'"}],"mark":{"type":"rule","color":"#c4c4c4","strokeWidth":2.5},"encoding":{"x":{"field":"x","type":"quantitative","axis":null},"x2":{"field":"x2"},"y":{"field":"d","type":"quantitative","axis":null}}},
{"data":{"name":"A"},"transform":[{"filter":"datum.r=='a'&&datum.c=='7B'"}],"mark":{"type":"point","shape":"M2,-0.6L0,0L2,0.6","size":529,"filled":false,"color":"#c4c4c4","strokeWidth":2.5,"opacity":1},"encoding":{"x":{"field":"x","type":"quantitative","axis":null},"y":{"field":"d","type":"quantitative","axis":null}}},
{"data":{"name":"N"},"transform":[{"filter":"datum.r=='a'&&datum.c=='7B'"}],"mark":{"type":"text","align":"left","baseline":"middle","fontSize":13,"color":"#222"},"encoding":{"x":{"field":"x","type":"quantitative","axis":null},"y":{"field":"d","type":"quantitative","axis":null},"text":{"field":"t"}}}
],"resolve":{"axis":{"x":"independent","y":"independent"}}},
{"width":115,"height":343,"layer":[
{"data":{"name":"P"},"transform":[{"filter":"datum.r=='a'&&datum.c=='9A'"}],"mark":{"type":"line","color":"#111","strokeWidth":3.4,"strokeJoin":"round"},"encoding":{"x":{"field":"v","type":"quantitative","scale":{"domain":[0,1.2],"nice":false,"zero":false},"axis":{"values":[0,0.5,1],"labelExpr":"replace(format(datum.value,'.1f'),'.',',')","title":null}},"y":{"field":"d","type":"quantitative","scale":{"domain":[-10,100],"reverse":true,"nice":false,"zero":false},"axis":{"values":[0,20,40,60,80,100],"labels":false,"title":null}},"order":{"field":"d","type":"quantitative"}}},
{"data":{"values":[{}]},"mark":{"type":"rule","color":"#111","strokeWidth":2.5},"encoding":{"x":{"datum":0,"type":"quantitative","axis":{"orient":"top","domain":false,"ticks":false,"labels":false,"title":"Core 9A","titleFontSize":18,"titleFontWeight":"normal","titlePadding":56}},"x2":{"datum":1.2},"y":{"datum":-10,"type":"quantitative","axis":null}}},
{"data":{"name":"A"},"transform":[{"filter":"datum.r=='a'&&datum.c=='9A'"}],"mark":{"type":"rule","color":"#c4c4c4","strokeWidth":2.5},"encoding":{"x":{"field":"x","type":"quantitative","axis":null},"x2":{"field":"x2"},"y":{"field":"d","type":"quantitative","axis":null}}},
{"data":{"name":"A"},"transform":[{"filter":"datum.r=='a'&&datum.c=='9A'"}],"mark":{"type":"point","shape":"M2,-0.6L0,0L2,0.6","size":529,"filled":false,"color":"#c4c4c4","strokeWidth":2.5,"opacity":1},"encoding":{"x":{"field":"x","type":"quantitative","axis":null},"y":{"field":"d","type":"quantitative","axis":null}}}
],"resolve":{"axis":{"x":"independent","y":"independent"}}},
{"width":115,"height":343,"layer":[
{"data":{"name":"P"},"transform":[{"filter":"datum.r=='a'&&datum.c=='11A'"}],"mark":{"type":"line","color":"#111","strokeWidth":3.4,"strokeJoin":"round"},"encoding":{"x":{"field":"v","type":"quantitative","scale":{"domain":[0,1.2],"nice":false,"zero":false},"axis":{"values":[0,0.5,1],"labelExpr":"replace(format(datum.value,'.1f'),'.',',')","title":null}},"y":{"field":"d","type":"quantitative","scale":{"domain":[-10,100],"reverse":true,"nice":false,"zero":false},"axis":{"values":[0,20,40,60,80,100],"labels":false,"title":null}},"order":{"field":"d","type":"quantitative"}}},
{"data":{"values":[{}]},"mark":{"type":"rule","color":"#111","strokeWidth":2.5},"encoding":{"x":{"datum":0,"type":"quantitative","axis":{"orient":"top","domain":false,"ticks":false,"labels":false,"title":"Core 11A","titleFontSize":18,"titleFontWeight":"normal","titlePadding":56}},"x2":{"datum":1.2},"y":{"datum":-10,"type":"quantitative","axis":null}}},
{"data":{"name":"A"},"transform":[{"filter":"datum.r=='a'&&datum.c=='11A'"}],"mark":{"type":"rule","color":"#c4c4c4","strokeWidth":2.5},"encoding":{"x":{"field":"x","type":"quantitative","axis":null},"x2":{"field":"x2"},"y":{"field":"d","type":"quantitative","axis":null}}},
{"data":{"name":"A"},"transform":[{"filter":"datum.r=='a'&&datum.c=='11A'"}],"mark":{"type":"point","shape":"M2,-0.6L0,0L2,0.6","size":529,"filled":false,"color":"#c4c4c4","strokeWidth":2.5,"opacity":1},"encoding":{"x":{"field":"x","type":"quantitative","axis":null},"y":{"field":"d","type":"quantitative","axis":null}}}
],"resolve":{"axis":{"x":"independent","y":"independent"}}},
{"width":115,"height":343,"layer":[
{"data":{"name":"P"},"transform":[{"filter":"datum.r=='a'&&datum.c=='12A'"}],"mark":{"type":"line","color":"#111","strokeWidth":3.4,"strokeJoin":"round"},"encoding":{"x":{"field":"v","type":"quantitative","scale":{"domain":[0,1.2],"nice":false,"zero":false},"axis":{"values":[0,0.5,1],"labelExpr":"replace(format(datum.value,'.1f'),'.',',')","title":null}},"y":{"field":"d","type":"quantitative","scale":{"domain":[-10,100],"reverse":true,"nice":false,"zero":false},"axis":{"values":[0,20,40,60,80,100],"labels":false,"title":null}},"order":{"field":"d","type":"quantitative"}}},
{"data":{"values":[{}]},"mark":{"type":"rule","color":"#111","strokeWidth":2.5},"encoding":{"x":{"datum":0,"type":"quantitative","axis":{"orient":"top","domain":false,"ticks":false,"labels":false,"title":"Core 12A","titleFontSize":18,"titleFontWeight":"normal","titlePadding":56}},"x2":{"datum":1.2},"y":{"datum":-10,"type":"quantitative","axis":null}}},
{"data":{"name":"A"},"transform":[{"filter":"datum.r=='a'&&datum.c=='12A'"}],"mark":{"type":"rule","color":"#c4c4c4","strokeWidth":2.5},"encoding":{"x":{"field":"x","type":"quantitative","axis":null},"x2":{"field":"x2"},"y":{"field":"d","type":"quantitative","axis":null}}},
{"data":{"name":"A"},"transform":[{"filter":"datum.r=='a'&&datum.c=='12A'"}],"mark":{"type":"point","shape":"M2,-0.6L0,0L2,0.6","size":529,"filled":false,"color":"#c4c4c4","strokeWidth":2.5,"opacity":1},"encoding":{"x":{"field":"x","type":"quantitative","axis":null},"y":{"field":"d","type":"quantitative","axis":null}}},
{"data":{"name":"N"},"transform":[{"filter":"datum.r=='a'&&datum.c=='12A'"}],"mark":{"type":"text","align":"left","baseline":"middle","fontSize":13,"color":"#222"},"encoding":{"x":{"field":"x","type":"quantitative","axis":null},"y":{"field":"d","type":"quantitative","axis":null},"text":{"field":"t"}}}
],"resolve":{"axis":{"x":"independent","y":"independent"}}},
{"width":115,"height":343,"layer":[
{"data":{"name":"P"},"transform":[{"filter":"datum.r=='b'&&datum.c=='1A'"}],"mark":{"type":"line","color":"#111","strokeWidth":3.4,"strokeJoin":"round"},"encoding":{"x":{"field":"v","type":"quantitative","scale":{"domain":[5,45],"nice":false,"zero":false},"axis":{"values":[10,20,30,40],"title":null}},"y":{"field":"d","type":"quantitative","scale":{"domain":[-10,100],"reverse":true,"nice":false,"zero":false},"axis":{"values":[0,20,40,60,80,100],"title":"Depth (cm)"}},"order":{"field":"d","type":"quantitative"}}},
{"data":{"values":[{}]},"mark":{"type":"rule","color":"#111","strokeWidth":2.5},"encoding":{"x":{"datum":5,"type":"quantitative","axis":null},"x2":{"datum":45},"y":{"datum":-10,"type":"quantitative","axis":null}}},
{"data":{"name":"A"},"transform":[{"filter":"datum.r=='b'&&datum.c=='1A'"}],"mark":{"type":"rule","color":"#c4c4c4","strokeWidth":2.5},"encoding":{"x":{"field":"x","type":"quantitative","axis":null},"x2":{"field":"x2"},"y":{"field":"d","type":"quantitative","axis":null}}},
{"data":{"name":"A"},"transform":[{"filter":"datum.r=='b'&&datum.c=='1A'"}],"mark":{"type":"point","shape":"M2,-0.6L0,0L2,0.6","size":529,"filled":false,"color":"#c4c4c4","strokeWidth":2.5,"opacity":1},"encoding":{"x":{"field":"x","type":"quantitative","axis":null},"y":{"field":"d","type":"quantitative","axis":null}}},
{"data":{"name":"N"},"transform":[{"filter":"datum.r=='b'&&datum.c=='1A'"}],"mark":{"type":"text","align":"left","baseline":"middle","fontSize":13,"color":"#222"},"encoding":{"x":{"field":"x","type":"quantitative","axis":null},"y":{"field":"d","type":"quantitative","axis":null},"text":{"field":"t"}}},
{"data":{"name":"H"},"transform":[{"filter":"datum.r=='b'&&datum.k=='h'"}],"mark":{"type":"text","align":"left","baseline":"alphabetic","fontSize":22.5,"color":"#111"},"encoding":{"x":{"field":"x","type":"quantitative","axis":null},"y":{"field":"d","type":"quantitative","axis":null},"text":{"field":"t"}}},
{"data":{"name":"H"},"transform":[{"filter":"datum.r=='b'&&datum.k=='l'"}],"mark":{"type":"text","align":"left","baseline":"alphabetic","fontSize":22,"fontWeight":"bold","color":"#111"},"encoding":{"x":{"field":"x","type":"quantitative","axis":null},"y":{"field":"d","type":"quantitative","axis":null},"text":{"field":"t"}}}
],"resolve":{"axis":{"x":"independent","y":"independent"}}},
{"width":115,"height":343,"layer":[
{"data":{"name":"P"},"transform":[{"filter":"datum.r=='b'&&datum.c=='2A'"}],"mark":{"type":"line","color":"#111","strokeWidth":3.4,"strokeJoin":"round"},"encoding":{"x":{"field":"v","type":"quantitative","scale":{"domain":[5,45],"nice":false,"zero":false},"axis":{"values":[10,20,30,40],"title":null}},"y":{"field":"d","type":"quantitative","scale":{"domain":[-10,100],"reverse":true,"nice":false,"zero":false},"axis":{"values":[0,20,40,60,80,100],"labels":false,"title":null}},"order":{"field":"d","type":"quantitative"}}},
{"data":{"values":[{}]},"mark":{"type":"rule","color":"#111","strokeWidth":2.5},"encoding":{"x":{"datum":5,"type":"quantitative","axis":null},"x2":{"datum":45},"y":{"datum":-10,"type":"quantitative","axis":null}}},
{"data":{"name":"A"},"transform":[{"filter":"datum.r=='b'&&datum.c=='2A'"}],"mark":{"type":"rule","color":"#c4c4c4","strokeWidth":2.5},"encoding":{"x":{"field":"x","type":"quantitative","axis":null},"x2":{"field":"x2"},"y":{"field":"d","type":"quantitative","axis":null}}},
{"data":{"name":"A"},"transform":[{"filter":"datum.r=='b'&&datum.c=='2A'"}],"mark":{"type":"point","shape":"M2,-0.6L0,0L2,0.6","size":529,"filled":false,"color":"#c4c4c4","strokeWidth":2.5,"opacity":1},"encoding":{"x":{"field":"x","type":"quantitative","axis":null},"y":{"field":"d","type":"quantitative","axis":null}}}
],"resolve":{"axis":{"x":"independent","y":"independent"}}},
{"width":115,"height":343,"layer":[
{"data":{"name":"P"},"transform":[{"filter":"datum.r=='b'&&datum.c=='5A'"}],"mark":{"type":"line","color":"#111","strokeWidth":3.4,"strokeJoin":"round"},"encoding":{"x":{"field":"v","type":"quantitative","scale":{"domain":[5,45],"nice":false,"zero":false},"axis":{"values":[10,20,30,40],"title":null}},"y":{"field":"d","type":"quantitative","scale":{"domain":[-10,100],"reverse":true,"nice":false,"zero":false},"axis":{"values":[0,20,40,60,80,100],"labels":false,"title":null}},"order":{"field":"d","type":"quantitative"}}},
{"data":{"values":[{}]},"mark":{"type":"rule","color":"#111","strokeWidth":2.5},"encoding":{"x":{"datum":5,"type":"quantitative","axis":null},"x2":{"datum":45},"y":{"datum":-10,"type":"quantitative","axis":null}}},
{"data":{"name":"A"},"transform":[{"filter":"datum.r=='b'&&datum.c=='5A'"}],"mark":{"type":"rule","color":"#c4c4c4","strokeWidth":2.5},"encoding":{"x":{"field":"x","type":"quantitative","axis":null},"x2":{"field":"x2"},"y":{"field":"d","type":"quantitative","axis":null}}},
{"data":{"name":"A"},"transform":[{"filter":"datum.r=='b'&&datum.c=='5A'"}],"mark":{"type":"point","shape":"M2,-0.6L0,0L2,0.6","size":529,"filled":false,"color":"#c4c4c4","strokeWidth":2.5,"opacity":1},"encoding":{"x":{"field":"x","type":"quantitative","axis":null},"y":{"field":"d","type":"quantitative","axis":null}}}
],"resolve":{"axis":{"x":"independent","y":"independent"}}},
{"width":115,"height":343,"layer":[
{"data":{"name":"P"},"transform":[{"filter":"datum.r=='b'&&datum.c=='7A'"}],"mark":{"type":"line","color":"#111","strokeWidth":3.4,"strokeJoin":"round"},"encoding":{"x":{"field":"v","type":"quantitative","scale":{"domain":[5,45],"nice":false,"zero":false},"axis":{"values":[10,20,30,40],"title":null}},"y":{"field":"d","type":"quantitative","scale":{"domain":[-10,100],"reverse":true,"nice":false,"zero":false},"axis":{"values":[0,20,40,60,80,100],"labels":false,"title":null}},"order":{"field":"d","type":"quantitative"}}},
{"data":{"values":[{}]},"mark":{"type":"rule","color":"#111","strokeWidth":2.5},"encoding":{"x":{"datum":5,"type":"quantitative","axis":null},"x2":{"datum":45},"y":{"datum":-10,"type":"quantitative","axis":null}}},
{"data":{"name":"N"},"transform":[{"filter":"datum.r=='b'&&datum.c=='7A'"}],"mark":{"type":"text","align":"left","baseline":"middle","fontSize":13,"color":"#222"},"encoding":{"x":{"field":"x","type":"quantitative","axis":null},"y":{"field":"d","type":"quantitative","axis":null},"text":{"field":"t"}}},
{"data":{"name":"L"},"transform":[{"filter":"datum.r=='b'"}],"mark":{"type":"rule","color":"#999","strokeWidth":1.3,"strokeDash":[9,5]},"encoding":{"x":{"field":"x","type":"quantitative","axis":null},"x2":{"field":"x2"},"y":{"field":"d","type":"quantitative","axis":null},"y2":{"field":"d2"}}}
],"resolve":{"axis":{"x":"independent","y":"independent"}}},
{"width":115,"height":343,"layer":[
{"data":{"name":"P"},"transform":[{"filter":"datum.r=='b'&&datum.c=='7B'"}],"mark":{"type":"line","color":"#111","strokeWidth":3.4,"strokeJoin":"round"},"encoding":{"x":{"field":"v","type":"quantitative","scale":{"domain":[5,45],"nice":false,"zero":false},"axis":{"values":[10,20,30,40],"title":null}},"y":{"field":"d","type":"quantitative","scale":{"domain":[-10,100],"reverse":true,"nice":false,"zero":false},"axis":{"values":[0,20,40,60,80,100],"labels":false,"title":null}},"order":{"field":"d","type":"quantitative"}}},
{"data":{"values":[{}]},"mark":{"type":"rule","color":"#111","strokeWidth":2.5},"encoding":{"x":{"datum":5,"type":"quantitative","axis":null},"x2":{"datum":45},"y":{"datum":-10,"type":"quantitative","axis":null}}},
{"data":{"name":"A"},"transform":[{"filter":"datum.r=='b'&&datum.c=='7B'"}],"mark":{"type":"rule","color":"#c4c4c4","strokeWidth":2.5},"encoding":{"x":{"field":"x","type":"quantitative","axis":null},"x2":{"field":"x2"},"y":{"field":"d","type":"quantitative","axis":null}}},
{"data":{"name":"A"},"transform":[{"filter":"datum.r=='b'&&datum.c=='7B'"}],"mark":{"type":"point","shape":"M2,-0.6L0,0L2,0.6","size":529,"filled":false,"color":"#c4c4c4","strokeWidth":2.5,"opacity":1},"encoding":{"x":{"field":"x","type":"quantitative","axis":null},"y":{"field":"d","type":"quantitative","axis":null}}},
{"data":{"name":"N"},"transform":[{"filter":"datum.r=='b'&&datum.c=='7B'"}],"mark":{"type":"text","align":"left","baseline":"middle","fontSize":13,"color":"#222"},"encoding":{"x":{"field":"x","type":"quantitative","axis":null},"y":{"field":"d","type":"quantitative","axis":null},"text":{"field":"t"}}}
],"resolve":{"axis":{"x":"independent","y":"independent"}}},
{"width":115,"height":343,"layer":[
{"data":{"name":"P"},"transform":[{"filter":"datum.r=='b'&&datum.c=='9A'"}],"mark":{"type":"line","color":"#111","strokeWidth":3.4,"strokeJoin":"round"},"encoding":{"x":{"field":"v","type":"quantitative","scale":{"domain":[5,45],"nice":false,"zero":false},"axis":{"values":[10,20,30,40],"title":null}},"y":{"field":"d","type":"quantitative","scale":{"domain":[-10,100],"reverse":true,"nice":false,"zero":false},"axis":{"values":[0,20,40,60,80,100],"labels":false,"title":null}},"order":{"field":"d","type":"quantitative"}}},
{"data":{"values":[{}]},"mark":{"type":"rule","color":"#111","strokeWidth":2.5},"encoding":{"x":{"datum":5,"type":"quantitative","axis":null},"x2":{"datum":45},"y":{"datum":-10,"type":"quantitative","axis":null}}},
{"data":{"name":"A"},"transform":[{"filter":"datum.r=='b'&&datum.c=='9A'"}],"mark":{"type":"rule","color":"#c4c4c4","strokeWidth":2.5},"encoding":{"x":{"field":"x","type":"quantitative","axis":null},"x2":{"field":"x2"},"y":{"field":"d","type":"quantitative","axis":null}}},
{"data":{"name":"A"},"transform":[{"filter":"datum.r=='b'&&datum.c=='9A'"}],"mark":{"type":"point","shape":"M2,-0.6L0,0L2,0.6","size":529,"filled":false,"color":"#c4c4c4","strokeWidth":2.5,"opacity":1},"encoding":{"x":{"field":"x","type":"quantitative","axis":null},"y":{"field":"d","type":"quantitative","axis":null}}}
],"resolve":{"axis":{"x":"independent","y":"independent"}}},
{"width":115,"height":343,"layer":[
{"data":{"name":"P"},"transform":[{"filter":"datum.r=='b'&&datum.c=='11A'"}],"mark":{"type":"line","color":"#111","strokeWidth":3.4,"strokeJoin":"round"},"encoding":{"x":{"field":"v","type":"quantitative","scale":{"domain":[5,45],"nice":false,"zero":false},"axis":{"values":[10,20,30,40],"title":null}},"y":{"field":"d","type":"quantitative","scale":{"domain":[-10,100],"reverse":true,"nice":false,"zero":false},"axis":{"values":[0,20,40,60,80,100],"labels":false,"title":null}},"order":{"field":"d","type":"quantitative"}}},
{"data":{"values":[{}]},"mark":{"type":"rule","color":"#111","strokeWidth":2.5},"encoding":{"x":{"datum":5,"type":"quantitative","axis":null},"x2":{"datum":45},"y":{"datum":-10,"type":"quantitative","axis":null}}},
{"data":{"name":"A"},"transform":[{"filter":"datum.r=='b'&&datum.c=='11A'"}],"mark":{"type":"rule","color":"#c4c4c4","strokeWidth":2.5},"encoding":{"x":{"field":"x","type":"quantitative","axis":null},"x2":{"field":"x2"},"y":{"field":"d","type":"quantitative","axis":null}}},
{"data":{"name":"A"},"transform":[{"filter":"datum.r=='b'&&datum.c=='11A'"}],"mark":{"type":"point","shape":"M2,-0.6L0,0L2,0.6","size":529,"filled":false,"color":"#c4c4c4","strokeWidth":2.5,"opacity":1},"encoding":{"x":{"field":"x","type":"quantitative","axis":null},"y":{"field":"d","type":"quantitative","axis":null}}}
],"resolve":{"axis":{"x":"independent","y":"independent"}}},
{"width":115,"height":343,"layer":[
{"data":{"name":"P"},"transform":[{"filter":"datum.r=='b'&&datum.c=='12A'"}],"mark":{"type":"line","color":"#111","strokeWidth":3.4,"strokeJoin":"round"},"encoding":{"x":{"field":"v","type":"quantitative","scale":{"domain":[5,45],"nice":false,"zero":false},"axis":{"values":[10,20,30,40],"title":null}},"y":{"field":"d","type":"quantitative","scale":{"domain":[-10,100],"reverse":true,"nice":false,"zero":false},"axis":{"values":[0,20,40,60,80,100],"labels":false,"title":null}},"order":{"field":"d","type":"quantitative"},"detail":{"field":"s"}}},
{"data":{"values":[{}]},"mark":{"type":"rule","color":"#111","strokeWidth":2.5},"encoding":{"x":{"datum":5,"type":"quantitative","axis":null},"x2":{"datum":45},"y":{"datum":-10,"type":"quantitative","axis":null}}},
{"data":{"name":"A"},"transform":[{"filter":"datum.r=='b'&&datum.c=='12A'"}],"mark":{"type":"rule","color":"#c4c4c4","strokeWidth":2.5},"encoding":{"x":{"field":"x","type":"quantitative","axis":null},"x2":{"field":"x2"},"y":{"field":"d","type":"quantitative","axis":null}}},
{"data":{"name":"A"},"transform":[{"filter":"datum.r=='b'&&datum.c=='12A'"}],"mark":{"type":"point","shape":"M2,-0.6L0,0L2,0.6","size":529,"filled":false,"color":"#c4c4c4","strokeWidth":2.5,"opacity":1},"encoding":{"x":{"field":"x","type":"quantitative","axis":null},"y":{"field":"d","type":"quantitative","axis":null}}},
{"data":{"name":"N"},"transform":[{"filter":"datum.r=='b'&&datum.c=='12A'"}],"mark":{"type":"text","align":"left","baseline":"middle","fontSize":13,"color":"#222"},"encoding":{"x":{"field":"x","type":"quantitative","axis":null},"y":{"field":"d","type":"quantitative","axis":null},"text":{"field":"t"}}}
],"resolve":{"axis":{"x":"independent","y":"independent"}}}
]
}
